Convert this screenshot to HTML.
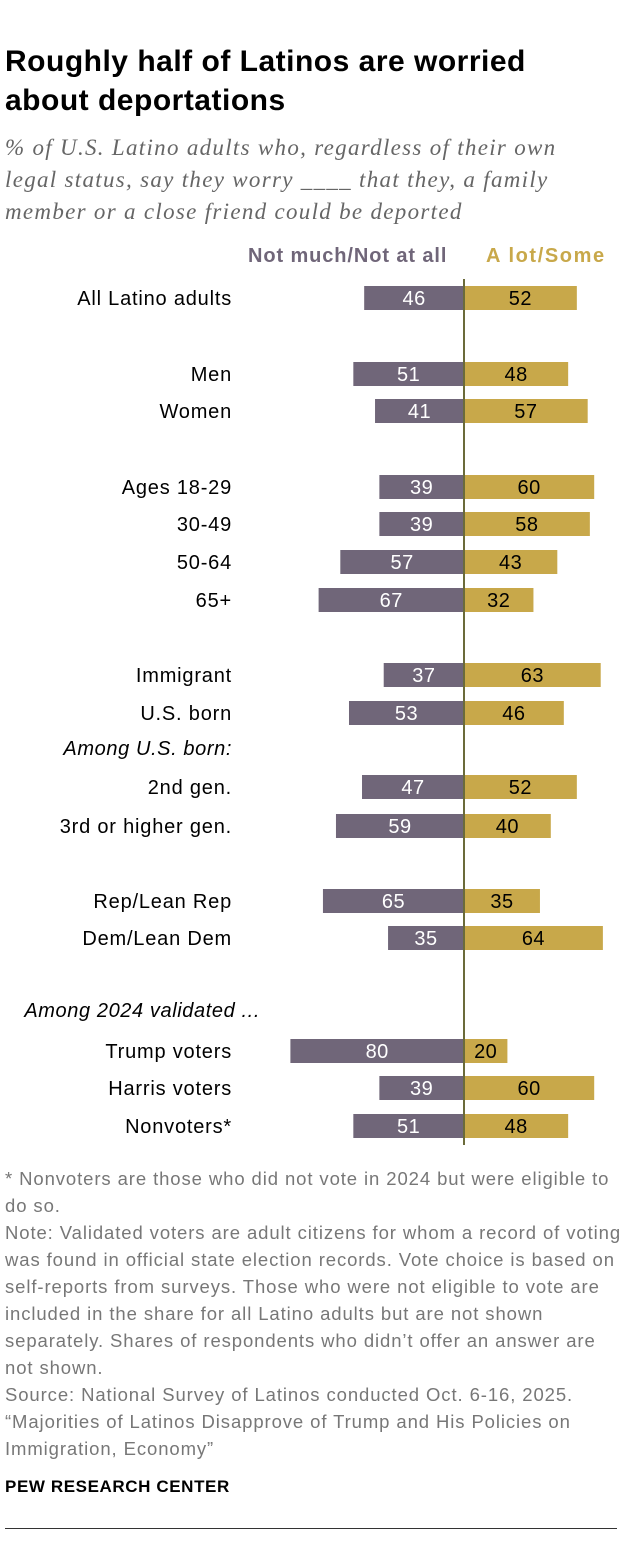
<!DOCTYPE html>
<html><head><meta charset="utf-8">
<style>
body{margin:0;background:#fff;width:620px;height:1550px;overflow:hidden;font-family:"Liberation Sans",sans-serif;}
#wrap{position:relative;width:620px;height:1550px;}
.t{position:absolute;white-space:nowrap;}
</style></head><body>
<div id="wrap">
<div class="t" style="left:5px;top:42px;font-size:30px;letter-spacing:0.5px;font-weight:bold;line-height:39px;color:#000;">Roughly half of Latinos are worried<br>about deportations</div>
<div class="t" style="left:5px;top:132px;font-size:23px;letter-spacing:1.3px;font-style:italic;line-height:32px;color:#666;font-family:'Liberation Serif',serif;">% of U.S. Latino adults who, regardless of their own<br>legal status, say they worry ____ that they, a family<br>member or a close friend could be deported</div>
<div class="t" style="left:248px;top:245px;font-size:20px;letter-spacing:0.9px;font-weight:bold;color:#706679;">Not much/Not at all</div>
<div class="t" style="left:486px;top:245px;font-size:20px;letter-spacing:1.6px;font-weight:bold;color:#c8a84a;">A lot/Some</div>
<svg id="chart" width="620" height="1550" style="position:absolute;left:0;top:0"></svg>
<div class="t" style="left:5px;top:1165px;font-size:18.5px;letter-spacing:0.9px;line-height:27px;color:#777;">* Nonvoters are those who did not vote in 2024 but were eligible to<br>do so.<br>Note: Validated voters are adult citizens for whom a record of voting<br>was found in official state election records. Vote choice is based on<br>self-reports from surveys. Those who were not eligible to vote are<br>included in the share for all Latino adults but are not shown<br>separately. Shares of respondents who didn’t offer an answer are<br>not shown.<br>Source: National Survey of Latinos conducted Oct. 6-16, 2025.<br>“Majorities of Latinos Disapprove of Trump and His Policies on<br>Immigration, Economy”</div>
<div class="t" style="left:5px;top:1477px;font-size:17px;letter-spacing:0.6px;font-weight:bold;color:#000;">PEW RESEARCH CENTER</div>
<div style="position:absolute;left:5px;top:1528px;width:612px;height:1px;background:#333;"></div>
</div>
<script>
const categories=["All Latino adults","Men","Women","Ages 18-29","30-49","50-64","65+","Immigrant","U.S. born","2nd gen.","3rd or higher gen.","Rep/Lean Rep","Dem/Lean Dem","Trump voters","Harris voters","Nonvoters*"];
const notMuch=[46,51,41,39,39,57,67,37,53,47,59,65,35,80,39,51];
const aLot=[52,48,57,60,58,43,32,63,46,52,40,35,64,20,60,48];
const rowY=[298,374,411,487,524,562,600,675,713,787,826,901,938,1051,1088,1126];
const NS="http://www.w3.org/2000/svg";
const svg=document.getElementById('chart');
const cx=464, k=2.17;
const x=v=>v*k;
const FONT='Liberation Sans,sans-serif';
function mk(tag,attrs){const e=document.createElementNS(NS,tag);for(const a in attrs)e.setAttribute(a,attrs[a]);svg.appendChild(e);return e;}
const subs=[["Among U.S. born:",748,232],["Among 2024 validated ...",1010,260]];
subs.forEach(s=>{const t=mk('text',{x:s[2],y:s[1]+7,'text-anchor':'end','font-size':20,'letter-spacing':0.6,'font-style':'italic',fill:'#000','font-family':FONT});t.textContent=s[0];

});
categories.forEach((c,i)=>{
 const y=rowY[i];
 const l=mk('text',{x:232,y:y+7,'text-anchor':'end','font-size':20,'letter-spacing':0.8,fill:'#000','font-family':FONT});l.textContent=c;
 
 
 const w1=x(notMuch[i]);
 const b1=mk('rect',{x:cx-w1,y:y-12,width:w1,height:24,fill:'#706679'});
 
 
 const t1=mk('text',{x:cx-w1/2,y:y+7,'text-anchor':'middle','font-size':20,'letter-spacing':0.5,fill:'#fff','font-family':FONT});t1.textContent=notMuch[i];
 
 
 const w2=x(aLot[i]);
 const b2=mk('rect',{x:cx,y:y-12,width:w2,height:24,fill:'#c8a84a'});
 
 
 const t2=mk('text',{x:cx+w2/2,y:y+7,'text-anchor':'middle','font-size':20,'letter-spacing':0.5,fill:'#000','font-family':FONT});t2.textContent=aLot[i];
 
 
});
const ax=mk('line',{x1:cx,x2:cx,y1:279,y2:1145,stroke:'#6b6b3a','stroke-width':2});


</script>
</body></html>
